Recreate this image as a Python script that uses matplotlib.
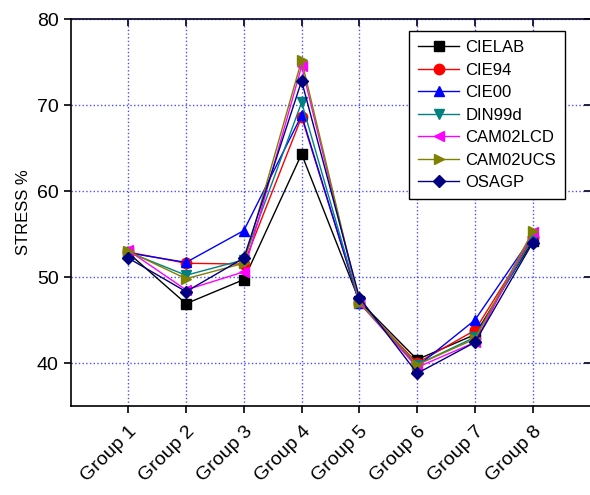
# STRESS % of colour-difference formulas for eight groups
import matplotlib.pyplot as plt

plt.rcParams['font.family'] = ['Liberation Sans', 'DejaVu Sans']

# data
groups = ["Group 1", "Group 2", "Group 3", "Group 4",
          "Group 5", "Group 6", "Group 7", "Group 8"]
cielab = [52.8, 46.9, 49.7, 64.3, 47.2, 40.4, 43.3, 54.2]
cie94 = [52.9, 51.6, 51.5, 68.6, 47.0, 40.0, 43.8, 54.6]
cie00 = [52.8, 51.7, 55.4, 68.8, 47.0, 39.6, 45.0, 54.8]
din99d = [52.9, 50.2, 52.0, 70.3, 47.0, 39.8, 43.0, 54.5]
cam02lcd = [53.1, 48.5, 50.6, 74.5, 47.0, 39.5, 42.4, 55.2]
cam02ucs = [53.0, 49.8, 51.6, 75.2, 47.0, 39.8, 42.8, 55.3]
osagp = [52.2, 48.3, 52.2, 72.8, 47.6, 38.8, 42.4, 54.0]

series = [("CIELAB", cielab, "black", "s"),
          ("CIE94", cie94, "red", "o"),
          ("CIE00", cie00, "blue", "^"),
          ("DIN99d", din99d, "#008080", "v"),
          ("CAM02LCD", cam02lcd, "magenta", "<"),
          ("CAM02UCS", cam02ucs, "#808000", ">"),
          ("OSAGP", osagp, "#000080", "D")]

fig = plt.figure(figsize=(5.9, 4.95), dpi=100)
ax = fig.add_axes([70.5 / 590, 89 / 495, 520 / 590, 387 / 495])

x = list(range(1, len(groups) + 1))
for name, vals, col, mk in series:
    ms = 6.5 if mk == "D" else 7.5
    ax.plot(x, vals, color=col, marker=mk, markersize=ms, linewidth=1,
            label=name, clip_on=False)

ax.set_xlim(0, 9)
ax.set_ylim(35, 80)
ax.set_xticks(x)
ax.set_xticklabels(groups, rotation=45, ha="right", va="top",
                   rotation_mode="anchor", fontsize=14)
ax.set_yticks([40, 50, 60, 70, 80])
ax.tick_params(axis="y", labelsize=14, direction="out", length=5, width=1.2)
ax.tick_params(axis="x", direction="out", length=5, width=1.2, pad=7)
ax.set_ylabel("STRESS %", fontsize=12)

# inner ticks on top and right
top = ax.secondary_xaxis("top")
top.set_xticks(x, labels=[])
top.tick_params(direction="in", length=5, width=1.2)
top.spines["top"].set_linewidth(1.2)
right = ax.secondary_yaxis("right")
right.set_yticks([40, 50, 60, 70, 80], labels=[])
right.tick_params(direction="in", length=5, width=1.2)
right.spines["right"].set_visible(False)
ax.spines["right"].set_visible(False)
ax.spines["top"].set_visible(False)
for sp in ["left", "bottom"]:
    ax.spines[sp].set_linewidth(1.2)

ax.grid(True, color="blue", linestyle=":", linewidth=1, alpha=0.7)

ax.legend(loc="upper right", bbox_to_anchor=(565 / 590, 464 / 495),
          bbox_transform=fig.transFigure, fontsize=12, fancybox=False,
          framealpha=1, edgecolor="black", borderaxespad=0,
          handlelength=2.5, labelspacing=0.45, handletextpad=0.35,
          borderpad=0.55)

plt.savefig("out.png")
